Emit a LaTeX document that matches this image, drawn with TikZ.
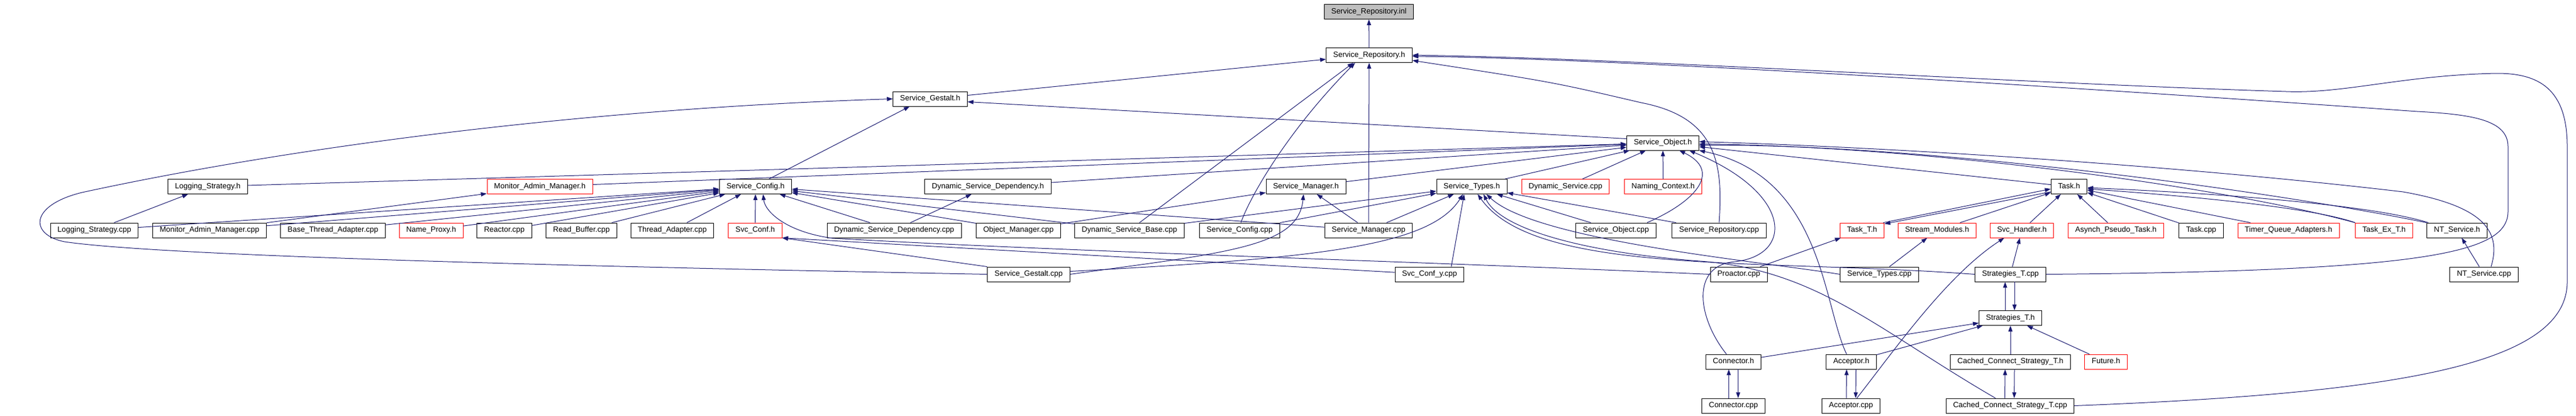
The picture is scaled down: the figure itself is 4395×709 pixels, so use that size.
\documentclass[tikz,border=0pt]{standalone}
\usepackage{fontspec}
\usepackage{tikz}
\usetikzlibrary{arrows.meta}
\newfontfamily\dotfont{Liberation Sans}
\definecolor{edgenavy}{HTML}{191970}
\definecolor{rootgrey}{HTML}{BFBFBF}
\tikzstyle{file} = [draw=black, line width=0.9pt, rectangle, fill=white,
                    inner xsep=12pt, inner ysep=0pt, minimum height=25pt,
                    text height=9.5pt, text depth=2.6pt,
                    font=\dotfont\fontsize{13pt}{15pt}\selectfont]
\tikzstyle{nodoc} = [file, draw=red]
\tikzstyle{current} = [file, fill=rootgrey]
\tikzstyle{incl} = [draw=edgenavy, line width=1pt,
                    -{Triangle[length=10pt,width=7pt]}]

\begin{document}
\begin{tikzpicture}[x=1pt, y=-1pt]%
  \useasboundingbox (0,0) rectangle (4395,709);

  \node [current] (inl) at (2335.5,20) {Service\_Repository.inl};
  \node [file] (repoh) at (2336,94) {Service\_Repository.h};
  \node [file] (gestalth) at (1587,168.5) {Service\_Gestalt.h};
  \node [file] (objh) at (2837,243.5) {Service\_Object.h};

  \node [file] (logh) at (354.5,318) {Logging\_Strategy.h};
  \node [nodoc] (monh) at (921,318) {Monitor\_Admin\_Manager.h};
  \node [file] (configh) at (1289,318) {Service\_Config.h};
  \node [file] (dsdh) at (1685.5,318) {Dynamic\_Service\_Dependency.h};
  \node [file] (mgrh) at (2228,318) {Service\_Manager.h};
  \node [file] (typesh) at (2511,318) {Service\_Types.h};
  \node [nodoc] (dscpp) at (2671,318) {Dynamic\_Service.cpp};
  \node [nodoc] (namingh) at (2837.5,318) {Naming\_Context.h};
  \node [file] (taskh) at (3530,318) {Task.h};

  \node [file] (logcpp) at (161,392.5) {Logging\_Strategy.cpp};
  \node [file] (moncpp) at (357.5,392.5) {Monitor\_Admin\_Manager.cpp};
  \node [file] (btacpp) at (568,392.5) {Base\_Thread\_Adapter.cpp};
  \node [nodoc] (nameproxy) at (735.5,392.5) {Name\_Proxy.h};
  \node [file] (reactorcpp) at (860.5,392.5) {Reactor.cpp};
  \node [file] (readbufcpp) at (992,392.5) {Read\_Buffer.cpp};
  \node [file] (thradcpp) at (1147,392.5) {Thread\_Adapter.cpp};
  \node [nodoc] (svcconfh) at (1288.5,392.5) {Svc\_Conf.h};
  \node [file] (dsdcpp) at (1525.5,392.5) {Dynamic\_Service\_Dependency.cpp};
  \node [file] (omcpp) at (1737.5,392.5) {Object\_Manager.cpp};
  \node [file] (dsbcpp) at (1927,392.5) {Dynamic\_Service\_Base.cpp};
  \node [file] (configcpp) at (2115,392.5) {Service\_Config.cpp};
  \node [file] (mgrcpp) at (2335,392.5) {Service\_Manager.cpp};
  \node [file] (objcpp) at (2757,392.5) {Service\_Object.cpp};
  \node [file] (repocpp) at (2933,392.5) {Service\_Repository.cpp};
  \node [nodoc] (taskth) at (3177,392.5) {Task\_T.h};
  \node [nodoc] (streamh) at (3305,392.5) {Stream\_Modules.h};
  \node [nodoc] (svchandh) at (3449.5,392.5) {Svc\_Handler.h};
  \node [nodoc] (asynchh) at (3610,392.5) {Asynch\_Pseudo\_Task.h};
  \node [file] (taskcpp) at (3755.5,392.5) {Task.cpp};
  \node [nodoc] (tqah) at (3904.5,392.5) {Timer\_Queue\_Adapters.h};
  \node [nodoc] (taskexh) at (4067.5,392.5) {Task\_Ex\_T.h};
  \node [file] (nth) at (4192,392.5) {NT\_Service.h};

  \node [file] (gestaltcpp) at (1755,467.5) {Service\_Gestalt.cpp};
  \node [file] (svcconfy) at (2439,467.5) {Svc\_Conf\_y.cpp};
  \node [file] (proactorcpp) at (2966.5,467.5) {Proactor.cpp};
  \node [file] (typescpp) at (3206.5,467.5) {Service\_Types.cpp};
  \node [file] (stratcpp) at (3430,467.5) {Strategies\_T.cpp};
  \node [file] (ntcpp) at (4238,467.5) {NT\_Service.cpp};

  \node [file] (strath) at (3430,542) {Strategies\_T.h};
  \node [file] (connh) at (2957.5,616.5) {Connector.h};
  \node [file] (acch) at (3158.5,616.5) {Acceptor.h};
  \node [file] (ccsth) at (3430,616.5) {Cached\_Connect\_Strategy\_T.h};
  \node [nodoc] (futureh) at (3593,616.5) {Future.h};
  \node [file] (conncpp) at (2957.5,691.5) {Connector.cpp};
  \node [file] (acccpp) at (3158,691.5) {Acceptor.cpp};
  \node [file] (ccstcpp) at (3429.5,691.5) {Cached\_Connect\_Strategy\_T.cpp};

  % Service_Repository.h and its includers
  \draw [incl] (repoh) -- (inl);
  \draw [incl] ([yshift=6pt]gestalth.east) -- ([yshift=-7pt]repoh.west);
  \draw [incl] ([xshift=17pt]dsbcpp.north) -- ([xshift=-27pt]repoh.south);
  \draw [incl] ([xshift=2pt]configcpp.north) .. controls (2135,330) and (2200,220) .. ([xshift=-24pt]repoh.south);
  \draw [incl] (mgrcpp) -- (repoh);
  \draw [incl] (repocpp.north) .. controls (2940,280) and (2930,200) .. (2800,175) .. controls (2650,140) .. ([yshift=-9pt]repoh.east);
  \draw [incl] (stratcpp.east) .. controls (4150,462) and (4279,430) .. (4279,360) -- (4279,250) .. controls (4279,205) and (4220,195) .. (4124,190) .. controls (3700,160) and (2800,100) .. ([yshift=-2pt]repoh.east);
  \draw [incl] (ccstcpp.east) .. controls (4100,670) and (4380,620) .. (4380,480) -- (4380,250) .. controls (4380,150) and (4330,125) .. (4260,125) .. controls (4100,128) and (4000,160) .. (3900,156) .. controls (3400,140) and (2800,100) .. (repoh.east);

  % Service_Gestalt.h
  \draw [incl] (gestaltcpp.west) .. controls (1200,458) and (300,440) .. (110,412) .. controls (50,400) and (50,350) .. (140,328) .. controls (500,250) and (1000,185) .. (gestalth.west);
  \draw [incl] ([xshift=23pt]configh.north) -- ([xshift=-35pt]gestalth.south);
  \draw [incl] ([yshift=7pt]objh.west) -- ([yshift=-5pt]gestalth.east);

  % Service_Object.h
  \draw [incl] (logh) -- (objh);
  \draw [incl] (monh) -- (objh);
  \draw [incl] (dsdh) -- (objh);
  \draw [incl] (mgrh) -- (objh);
  \draw [incl] (typesh) -- (objh);
  \draw [incl] (dscpp) -- (objh);
  \draw [incl] (namingh) -- (objh);
  \draw [incl] ([xshift=53pt]objcpp.north) .. controls (2900,340) and (2935,290) .. ([xshift=28pt]objh.south);
  \draw [incl] ([xshift=-12pt]connh.north) .. controls (2895,540) and (2885,452) .. (2960,446) .. controls (3060,435) and (3060,330) .. ([xshift=45pt]objh.south);
  \draw [incl] ([xshift=-8pt]acch.north) .. controls (3110,520) and (3110,300) .. (objh.south east);
  \draw [incl] (taskh) -- (objh);
  \draw [incl] (taskexh.north west) .. controls (3800,320) and (3300,250) .. ([yshift=-2pt]objh.east);
  \draw [incl] (nth.north west) .. controls (3900,330) and (3300,245) .. ([yshift=-4pt]objh.east);
  \draw [incl] ([xshift=12pt]ntcpp.north) .. controls (4270,390) and (4230,350) .. (4100,327) .. controls (3700,280) and (3200,250) .. ([yshift=2pt]objh.east);

  % Service_Config.h
  \draw [incl] (logcpp) -- (logh);
  \draw [incl] (moncpp) -- (monh);
  \draw [incl] (logcpp) -- (configh);
  \draw [incl] (moncpp) -- (configh);
  \draw [incl] (btacpp) -- (configh);
  \draw [incl] (nameproxy) -- (configh);
  \draw [incl] (reactorcpp) -- (configh);
  \draw [incl] (readbufcpp) -- (configh);
  \draw [incl] (thradcpp) -- (configh);
  \draw [incl] (svcconfh) -- (configh);
  \draw [incl] (dsdcpp) -- (configh);
  \draw [incl] (omcpp) -- (configh);
  \draw [incl] (dsbcpp) -- (configh);
  \draw [incl] (mgrcpp) -- (configh);
  \draw [incl] (proactorcpp.west) .. controls (2400,445) and (1800,428) .. (1420,406) .. controls (1340,395) and (1305,360) .. ([xshift=13pt]configh.south);
  \draw [incl] (gestaltcpp.north west) -- (svcconfh.south east);
  \draw [incl] (svcconfy) -- (svcconfh.south east);

  % Service_Manager.h and Service_Types.h
  \draw [incl] (dsdcpp) -- (dsdh);
  \draw [incl] (omcpp) -- (mgrh);
  \draw [incl] (mgrcpp) -- (mgrh);
  \draw [incl] (gestaltcpp.east) .. controls (2100,430) and (2215,420) .. ([xshift=-4pt]mgrh.south);
  \draw [incl] (dsbcpp) -- (typesh);
  \draw [incl] (configcpp) -- (typesh);
  \draw [incl] (mgrcpp) -- (typesh);
  \draw [incl] ([yshift=5pt]gestaltcpp.east) .. controls (2250,440) and (2440,420) .. ([xshift=-15pt]typesh.south);
  \draw [incl] ([xshift=37pt]svcconfy.north) -- ([xshift=-13pt]typesh.south);
  \draw [incl] (objcpp) -- (typesh);
  \draw [incl] (repocpp) -- (typesh);
  \draw [incl] (typescpp.west) .. controls (3000,445) and (2620,410) .. ([xshift=25pt]typesh.south);
  \draw [incl] (stratcpp.west) .. controls (3000,440) and (2620,470) .. ([xshift=10pt]typesh.south);
  \draw [incl] ([xshift=-25pt]ccstcpp.north) .. controls (3200,560) and (3100,460) .. (2900,445) .. controls (2700,430) and (2560,390) .. ([xshift=20pt]typesh.south);

  % Task.h
  \draw [incl] ([xshift=-2pt]taskth.north east) -- ([yshift=-4pt]taskh.west);
  \draw [incl] ([yshift=-9pt]taskh.west) -- ([yshift=-2pt]taskth.north east);
  \draw [incl] (streamh) -- (taskh);
  \draw [incl] (svchandh) -- (taskh);
  \draw [incl] (asynchh) -- (taskh);
  \draw [incl] (taskcpp) -- (taskh);
  \draw [incl] (tqah) -- (taskh);
  \draw [incl] (taskexh.north west) .. controls (3950,355) and (3750,335) .. ([yshift=-4pt]taskh.east);
  \draw [incl] ([xshift=3pt]nth.north west) .. controls (4050,350) and (3800,330) .. ([yshift=-2pt]taskh.east);
  \draw [incl] (proactorcpp) -- (taskth);
  \draw [incl] (typescpp) -- (streamh);
  \draw [incl] (stratcpp) -- (svchandh);
  \draw [incl] ([xshift=10pt]acccpp.north) .. controls (3230,600) and (3320,470) .. ([xshift=-30pt]svchandh.south);
  \draw [incl] (ntcpp) -- (nth);

  % Strategies_T.h and the template pairs
  \draw [incl] ([xshift=-9pt]strath.north) -- ([xshift=-9pt]stratcpp.south);
  \draw [incl] ([xshift=7pt]stratcpp.south) -- ([xshift=7pt]strath.north);
  \draw [incl] (connh) -- (strath);
  \draw [incl] (acch) -- (strath);
  \draw [incl] (ccsth) -- (strath);
  \draw [incl] (futureh) -- (strath);
  \draw [incl] ([xshift=-9pt]ccstcpp.north) -- ([xshift=-9pt]ccsth.south);
  \draw [incl] ([xshift=7pt]ccsth.south) -- ([xshift=7pt]ccstcpp.north);
  \draw [incl] ([xshift=-8pt]conncpp.north) -- ([xshift=-8pt]connh.south);
  \draw [incl] ([xshift=8pt]connh.south) -- ([xshift=8pt]conncpp.north);
  \draw [incl] ([xshift=-8pt]acccpp.north) -- ([xshift=-8pt]acch.south);
  \draw [incl] ([xshift=8pt]acch.south) -- ([xshift=8pt]acccpp.north);
\end{tikzpicture}
\end{document}
